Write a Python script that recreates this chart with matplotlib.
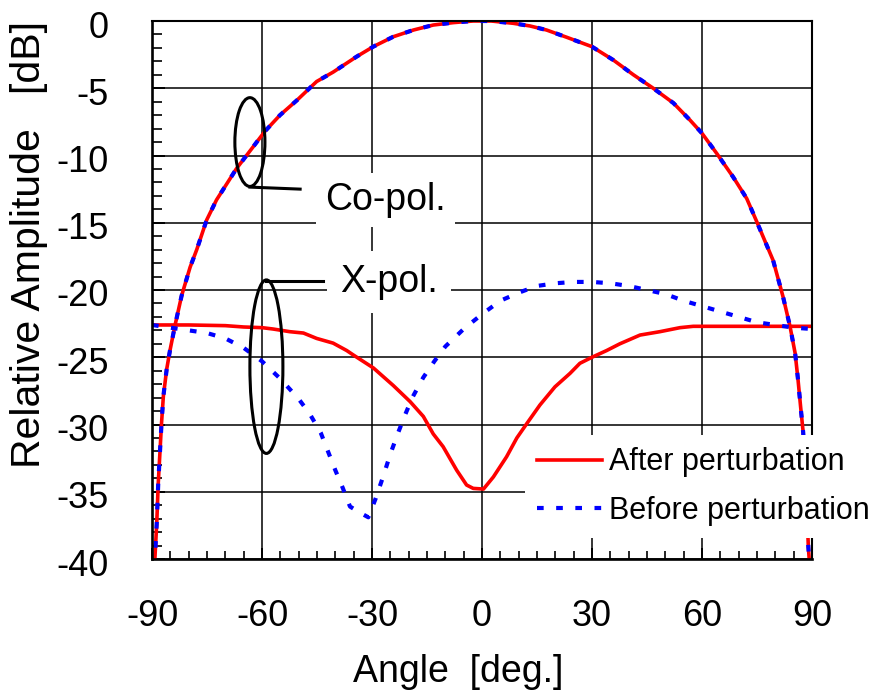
import matplotlib
matplotlib.use('Agg')
import matplotlib.pyplot as plt
from matplotlib.patches import Ellipse
from matplotlib.ticker import MultipleLocator
from matplotlib.transforms import ScaledTranslation

plt.rcParams['font.family'] = ['Liberation Sans', 'DejaVu Sans']
plt.rcParams['axes.unicode_minus'] = False

# ---------------- data ----------------
co_angle = [-90, -89.2, -88.7, -88.3, -87.8, -87.4, -86.9, -86.0, -85.1, -83.7, -81.9,
            -79.6, -77.8, -75.1, -72.4, -66.9, -62.4, -59.2, -55.1, -50.5, -45.1,
            -40.6, -34.2, -29.6, -24.2, -18.7, -13.3, -7.8, -2.4, 2.5, 8.5, 13.1,
            17.6, 23.1, 30.0, 35.8, 41.3, 46.7, 52.2, 56.7, 60.0, 64.0, 68.5, 72.2,
            74.9, 79.4, 82.1, 84.0, 85.4, 86.2, 86.9, 87.6, 88.3, 89.0, 89.5, 90]
co_after = [-42, -39.9, -37.3, -34.4, -31.9, -29.9, -27.9, -25.9, -24.5, -22.6, -20.4,
            -18.3, -17.0, -14.8, -13.3, -10.95, -9.35, -8.2, -7.0, -5.9, -4.5,
            -3.8, -2.65, -1.9, -1.17, -0.67, -0.3, -0.12, 0.0, 0.0, -0.17, -0.37,
            -0.67, -1.21, -1.91, -2.9, -4.0, -5.0, -6.1, -7.36, -8.35, -9.84, -11.6,
            -13.2, -14.9, -17.8, -20.5, -22.7, -24.7, -26.7, -28.7, -30.6, -34.0,
            -39.1, -41.0, -42]
co_before = list(co_after)

xa_angle = [-90, -80, -70, -65, -60, -57, -52.4, -48.7, -45.1, -40.6, -36.9, -35.1,
            -29.6, -24.2, -19.6, -16.0, -13.3, -10.6, -6.9, -4.2, -2.4, 0.4, 3.1,
            6.7, 9.5, 12.3, 15.8, 19.9, 24.0, 26.7, 30.0, 34.0, 37.6, 43.1, 48.5,
            54.0, 57.6, 65, 75, 90]
x_after = [-22.6, -22.6, -22.65, -22.75, -22.8, -22.9, -23.1, -23.2, -23.6, -23.95,
           -24.5, -24.83, -25.8, -27.1, -28.3, -29.4, -30.7, -31.65, -33.4, -34.5,
           -34.75, -34.8, -33.9, -32.4, -31.0, -29.9, -28.55, -27.2, -26.2, -25.45,
           -25.0, -24.5, -24.0, -23.35, -23.1, -22.8, -22.7, -22.7, -22.7, -22.7]

xb_angle = [-90, -85, -80, -75, -70, -65, -60, -55, -50, -47, -44, -42, -40, -38,
            -36, -33, -31, -29, -27, -25, -23, -21, -19, -16, -13, -10, -5, 0, 5,
            10, 15, 20, 25, 30, 35, 40, 45, 50, 55, 60, 65, 70, 75, 80, 85, 90]
x_before = [-22.6, -22.8, -23.0, -23.2, -23.6, -24.3, -25.3, -26.6, -28.1, -29.2,
            -30.6, -32.0, -33.4, -34.7, -36.1, -36.6, -36.9, -35.5, -33.9, -32.2,
            -30.7, -29.3, -28.0, -26.5, -25.3, -24.2, -22.9, -21.8, -20.8, -20.2,
            -19.7, -19.5, -19.4, -19.4, -19.5, -19.7, -20.0, -20.3, -20.8, -21.2,
            -21.6, -22.0, -22.4, -22.6, -22.8, -22.9]

x_ticks = [-90, -60, -30, 0, 30, 60, 90]
y_ticks = [-40, -35, -30, -25, -20, -15, -10, -5, 0]
labels = ['After perturbation', 'Before perturbation']

# ---------------- figure ----------------
fig = plt.figure(figsize=(8.73, 6.99), dpi=100)
ax = fig.add_axes([152/873, 1-559/699, 660/873, 538/699])

red_kw = dict(color='#ff0000', lw=2.6, solid_joinstyle='round', zorder=2)
blue_kw = dict(color='#0000ff', lw=3.0, dashes=(1.6, 3.0), dash_capstyle='butt', zorder=2.2)

ax.plot(co_angle, co_after, **red_kw)
ax.plot(xa_angle, x_after, label=labels[0], **red_kw)
ax.plot(co_angle, co_before, **blue_kw)
ax.plot(xb_angle, x_before, label=labels[1], **blue_kw)

ax.set_xlim(-90, 90)
ax.set_ylim(-40, 0)
ax.set_xticks(x_ticks)
ax.set_yticks(y_ticks)
ax.xaxis.set_minor_locator(MultipleLocator(5))
ax.yaxis.set_minor_locator(MultipleLocator(1))
ax.tick_params(which='both', direction='in', top=False, right=False, color='black')
ax.tick_params(axis='x', which='major', length=8, width=1.4, pad=29, labelsize=26)
ax.tick_params(axis='y', which='major', length=9, width=1.4, pad=31, labelsize=26)
ax.tick_params(axis='x', which='minor', length=6, width=1.2)
ax.tick_params(axis='y', which='minor', length=7, width=1.2)
ax.grid(True, which='major', color='black', lw=1.1)
ax.set_axisbelow(True)

offset = ScaledTranslation(0, -3/100, fig.dpi_scale_trans)
for lbl in ax.get_yticklabels():
    lbl.set_transform(lbl.get_transform() + offset)

for side in ['left', 'bottom']:
    ax.spines[side].set_linewidth(1.9)
for side in ['top', 'right']:
    ax.spines[side].set_linewidth(1.5)

ax.set_xlabel('Angle  [deg.]', fontsize=27)
ax.set_ylabel('Relative Amplitude   [dB]', fontsize=29.5)
ax.xaxis.set_label_coords(0.464, -0.176)
ax.yaxis.set_label_coords(-0.158, 0.584)

# annotations
ax.add_patch(Ellipse((-63.3, -9.0), 8.2, 6.6, fill=False, lw=2.2, ec='black', zorder=4))
ax.plot([-63.3, -49.6], [-12.35, -12.5], color='black', lw=2.2, zorder=4)
ax.add_patch(Ellipse((-58.8, -25.7), 9.0, 12.9, fill=False, lw=2.2, ec='black', zorder=4))
ax.plot([-58.8, -43.3], [-19.3, -19.3], color='black', lw=2.2, zorder=4)

ax.text(-42.8, -14.05, 'Co-pol.', fontsize=27, ha='left', va='baseline', zorder=1,
        bbox=dict(boxstyle='square,pad=0.25', fc='white', ec='none'))
ax.text(-38.7, -20.15, 'X-pol.', fontsize=27, ha='left', va='baseline', zorder=1,
        bbox=dict(boxstyle='square,pad=0.35', fc='white', ec='none'))

leg = ax.legend(loc='upper left', bbox_to_anchor=(525/873, 1-435/699),
                bbox_transform=fig.transFigure, borderaxespad=0, borderpad=0.4,
                fontsize=22, handlelength=2.13, handletextpad=0.23, labelspacing=0.6,
                frameon=True, fancybox=False, facecolor='white', edgecolor='none',
                framealpha=1)

fig.savefig('out.png', dpi=100)
